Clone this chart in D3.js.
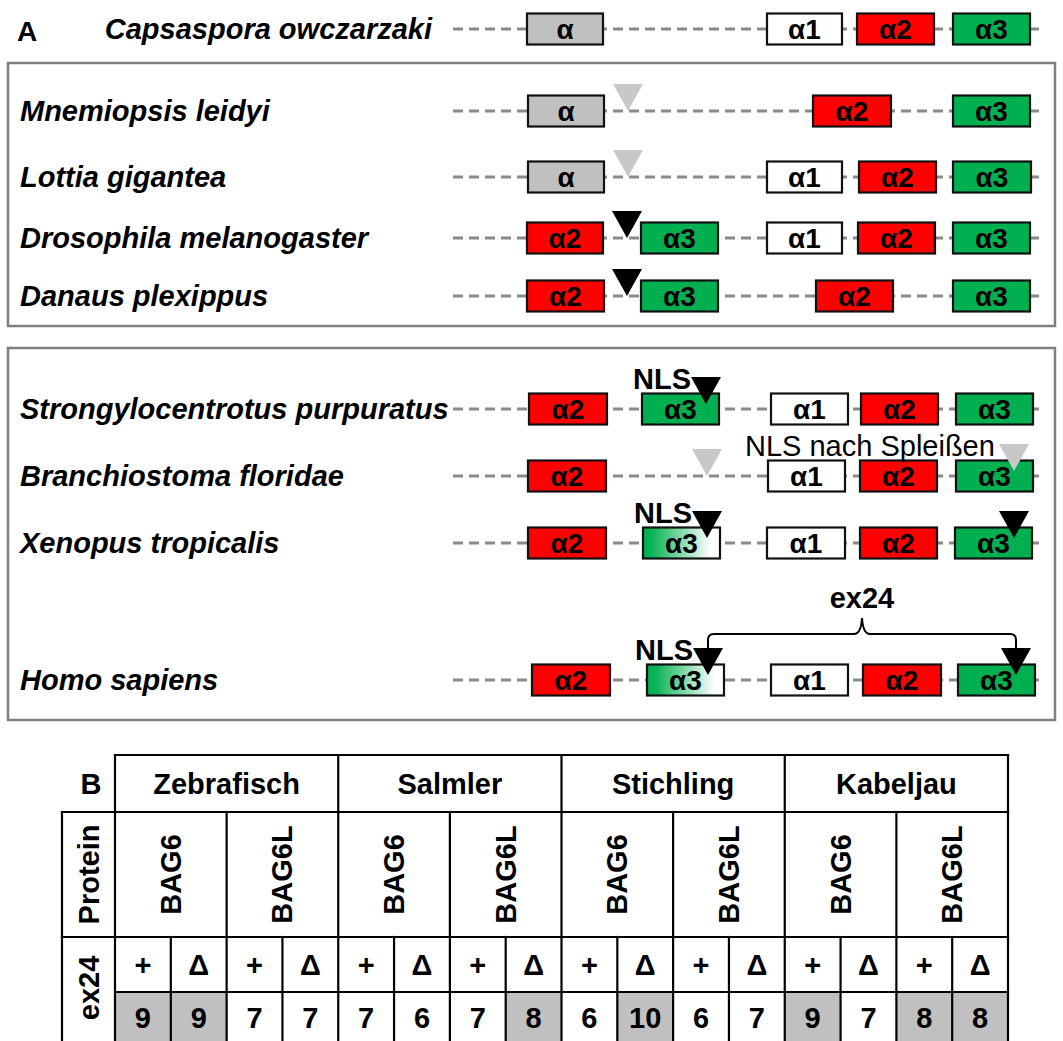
<!DOCTYPE html>
<html><head><meta charset="utf-8">
<script src="https://cdn.jsdelivr.net/npm/d3@7"></script>
<style>
html,body{margin:0;padding:0;background:#fff;}
svg{display:block;font-family:"Liberation Sans",Arial,sans-serif;}
</style></head>
<body>
<svg id="c" width="1063" height="1041"></svg>
<script>
// ---------- DATA ----------
const species = ["Capsaspora owczarzaki","Mnemiopsis leidyi","Lottia gigantea","Drosophila melanogaster","Danaus plexippus","Strongylocentrotus purpuratus","Branchiostoma floridae","Xenopus tropicalis","Homo sapiens"];
// exon: [label, start, end, fill]  (gene-track units)
const exons = [
  [["α",77,153,"gray"],["α1",317,392,"white"],["α2",407,484,"red"],["α3",503,580,"green"]],
  [["α",78,154,"gray"],["α2",363,441,"red"],["α3",503,580,"green"]],
  [["α",78,154,"gray"],["α1",317,392,"white"],["α2",409,486,"red"],["α3",503,581,"green"]],
  [["α2",77,153,"red"],["α3",191,268,"green"],["α1",317,392,"white"],["α2",408,485,"red"],["α3",503,580,"green"]],
  [["α2",77,154,"red"],["α3",191,268,"green"],["α2",366,443,"red"],["α3",503,580,"green"]],
  [["α2",79,157,"red"],["α3",192,269,"green"],["α1",321,398,"white"],["α2",411,488,"red"],["α3",506,583,"green"]],
  [["α2",78,156,"red"],["α1",318,395,"white"],["α2",410,487,"red"],["α3",506,583,"green"]],
  [["α2",78,156,"red"],["α3",193,270,"fade"],["α1",317,395,"white"],["α2",410,487,"red"],["α3",505,582,"green"]],
  [["α2",82,160,"red"],["α3",197,274,"fade"],["α1",321,398,"white"],["α2",413,491,"red"],["α3",508,585,"green"]]
];
// markers: [position, colour, label]
const markers = [
  [],
  [[178,"lightgray",""]],
  [[178,"lightgray",""]],
  [[177,"black",""]],
  [[177,"black",""]],
  [[256,"black","NLS"]],
  [[257,"lightgray",""],[564,"lightgray",""]],
  [[257,"black","NLS"],[564,"black",""]],
  [[258,"black","NLS"],[566,"black",""]]
];
const spliceNote = "NLS nach Spleißen";
const exonBracketLabel = "ex24";

const fishes = ["Zebrafisch","Salmler","Stichling","Kabeljau"];
const proteins = ["BAG6","BAG6L"];
const variants = ["+","Δ"];
const counts = [9,9,7,7,7,6,7,8,6,10,6,7,9,7,8,8];
const highlighted = [true,true,false,false,false,false,false,true,false,true,false,false,true,false,true,true];

// ---------- LAYOUT ----------
const svg = d3.select("#c");
const FONT = 29;
const colors = {gray:"#c0c0c0", white:"#ffffff", red:"#ff0000", green:"#00b050", lightgray:"#c8c8c8", black:"#000000"};
const x = d3.scaleLinear().domain([0,600]).range([450,1050]);
const rowY = [29,111,177,238,296,409,476,543,680];
const boxH = 31;

const defs = svg.append("defs");
const grad = defs.append("linearGradient").attr("id","fade").attr("x1","0").attr("x2","1").attr("y1","0").attr("y2","0");
grad.append("stop").attr("offset","0").attr("stop-color","#00b050");
grad.append("stop").attr("offset","0.12").attr("stop-color","#0cb457");
grad.append("stop").attr("offset","0.88").attr("stop-color","#ffffff");

// frames
svg.append("rect").attr("x",8).attr("y",63).attr("width",1047).attr("height",263)
  .attr("fill","none").attr("stroke","#7f7f7f").attr("stroke-width",2.5);
svg.append("rect").attr("x",8).attr("y",348).attr("width",1047).attr("height",372)
  .attr("fill","none").attr("stroke","#7f7f7f").attr("stroke-width",2.5);

svg.append("text").attr("x",17).attr("y",41).attr("font-size",28)
  .attr("font-weight","bold").text("A");

species.forEach((sp,i)=>{
  const y = rowY[i];
  const g = svg.append("g");
  const t = g.append("text").attr("y",y+10).attr("font-size",FONT)
    .attr("font-weight","bold").attr("font-style","italic").text(sp);
  if(i===0) t.attr("x",432).attr("text-anchor","end"); else t.attr("x",20);
  g.append("line").attr("x1",x(3)).attr("x2",x(595)).attr("y1",y).attr("y2",y)
    .attr("stroke","#8a8a8a").attr("stroke-width",3).attr("stroke-dasharray","10,6");
  exons[i].forEach(e=>{
    g.append("rect").attr("x",x(e[1])).attr("y",y-boxH/2).attr("width",x(e[2])-x(e[1])).attr("height",boxH)
      .attr("fill", e[3]==="fade" ? "url(#fade)" : colors[e[3]])
      .attr("stroke","#111").attr("stroke-width",2.2);
    g.append("text").attr("x",(x(e[1])+x(e[2]))/2).attr("y",y+10).attr("text-anchor","middle")
      .attr("font-size",28).attr("font-weight","bold").text(e[0]);
  });
  markers[i].forEach(m=>{
    const inExon = exons[i].some(e=>m[0]>e[1]&&m[0]<e[2]);
    const apex = inExon ? y-5 : y;
    const cx = x(m[0]);
    g.append("path").attr("d",`M${cx-15},${apex-27}L${cx+15},${apex-27}L${cx},${apex}Z`)
      .attr("fill",colors[m[1]]);
    if(m[2]) g.append("text").attr("x",cx-15).attr("y",y-20).attr("text-anchor","end")
      .attr("font-size",FONT).attr("font-weight","bold").text(m[2]);
  });
});

svg.append("text").attr("x",745).attr("y",rowY[6]-20).attr("font-size",FONT).text(spliceNote);

// ex24 bracket (Homo sapiens)
{
  const y = rowY[8];
  const l = x(markers[8][0][0]), r = x(markers[8][1][0]);
  const mid = (l+r)/2, hy = y-46;
  svg.append("path").attr("d",
    `M${l},${y-32}V${hy+6}Q${l},${hy} ${l+6},${hy}H${mid-8}Q${mid-1},${hy} ${mid},${hy-16}Q${mid+1},${hy} ${mid+8},${hy}H${r-6}Q${r},${hy} ${r},${hy+6}V${y-32}`)
    .attr("fill","none").attr("stroke","#000").attr("stroke-width",2);
  svg.append("text").attr("x",mid).attr("y",hy-26).attr("text-anchor","middle")
    .attr("font-size",FONT).attr("font-weight","bold").text(exonBracketLabel);
}

// ---------- TABLE B ----------
const tLeft = 62, cLeft = 115, cRight = 1008;
const rows = [755, 812, 937, 992, 1047];
const leaf = d3.scaleBand().domain(d3.range(counts.length)).range([cLeft,cRight]);
const fishX = d3.scaleBand().domain(fishes).range([cLeft,cRight]);
const protX = d3.scaleBand().domain(d3.range(fishes.length*proteins.length)).range([cLeft,cRight]);
const T = svg.append("g");
const line=(x1,y1,x2,y2)=>T.append("line").attr("x1",x1).attr("y1",y1).attr("x2",x2).attr("y2",y2)
  .attr("stroke","#000").attr("stroke-width",2.2).attr("stroke-linecap","square");

counts.forEach((v,i)=>{
  if(highlighted[i]) T.append("rect").attr("x",leaf(i)).attr("y",rows[3]).attr("width",leaf.bandwidth()).attr("height",rows[4]-rows[3]).attr("fill","#c0c0c0");
});
line(cLeft,rows[0],cRight,rows[0]);
line(tLeft,rows[1],cRight,rows[1]);
line(tLeft,rows[2],cRight,rows[2]);
line(cLeft,rows[3],cRight,rows[3]);
line(tLeft,rows[4],cRight,rows[4]);
line(tLeft,rows[1],tLeft,rows[4]);
fishes.forEach(f=>line(fishX(f),rows[0],fishX(f),rows[4]));
line(cRight,rows[0],cRight,rows[4]);
d3.range(protX.domain().length).forEach(i=>{ if(i%2) line(protX(i),rows[1],protX(i),rows[4]); });
d3.range(counts.length).forEach(i=>{ if(i%2) line(leaf(i),rows[2],leaf(i),rows[4]); });

const txt=(xx,yy,s,rot)=>{
  const t=T.append("text").attr("font-size",FONT).attr("font-weight","bold").attr("text-anchor","middle")
    .attr("dominant-baseline","central").text(s);
  if(rot) t.attr("transform",`translate(${xx},${yy}) rotate(-90)`); else t.attr("x",xx).attr("y",yy);
  return t;
};
txt(91,(rows[0]+rows[1])/2,"B");
fishes.forEach(f=>txt(fishX(f)+fishX.bandwidth()/2,(rows[0]+rows[1])/2,f));
txt((tLeft+cLeft)/2,(rows[1]+rows[2])/2,"Protein",true);
txt((tLeft+cLeft)/2,(rows[2]+rows[4])/2-4,"ex24",true);
d3.range(protX.domain().length).forEach(i=>txt(protX(i)+protX.bandwidth()/2,(rows[1]+rows[2])/2,proteins[i%2],true));
counts.forEach((v,i)=>{
  txt(leaf(i)+leaf.bandwidth()/2,(rows[2]+rows[3])/2,variants[i%2]);
  txt(leaf(i)+leaf.bandwidth()/2,(rows[3]+rows[4])/2-2,String(v));
});
</script>
</body></html>
